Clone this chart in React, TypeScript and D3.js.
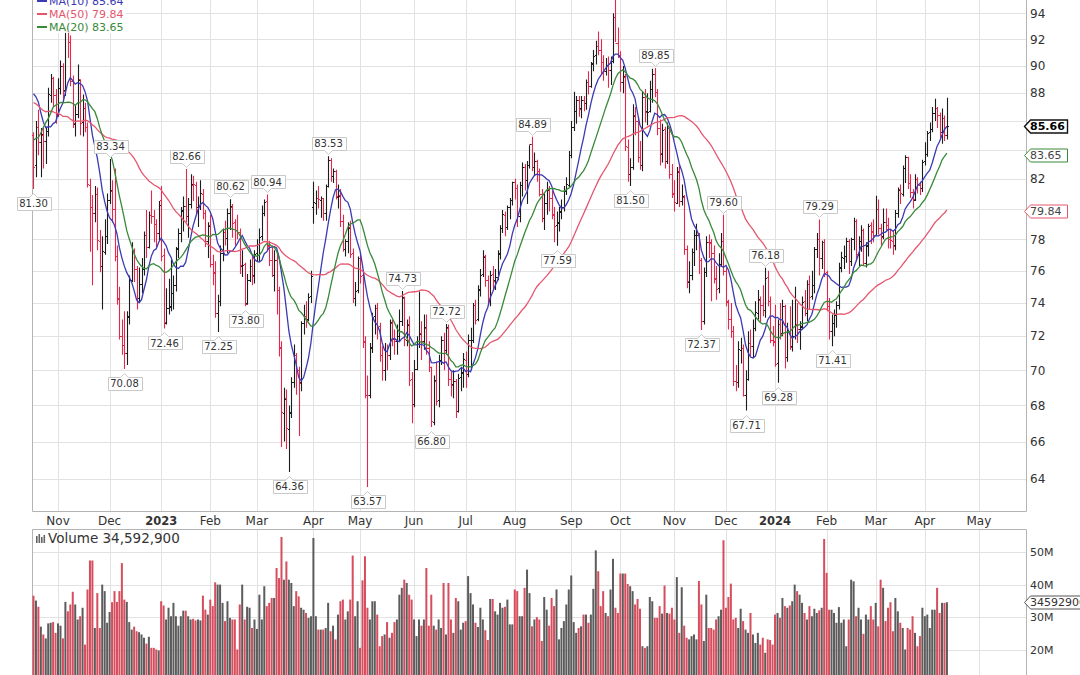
import React, { useEffect, useRef } from 'react';
import * as d3 from 'd3';

// daily bars, one array per month: [open, high, low, close, volume (millions)]
const oct22 = [
  [85.0, 85.2, 81.3, 82.82, 36.6], [82.9, 86.0, 82.1, 85.55, 35.1], [85.6, 86.8, 83.6, 84.51, 33.2],
  [84.5, 85.5, 82.1, 85.05, 27.1], [85.0, 85.5, 82.7, 84.58, 24.7], [84.6, 85.6, 83.0, 85.32, 23.5],
  [85.3, 88.4, 84.9, 87.91, 28.1], [87.9, 89.4, 87.3, 89.08, 28.3], [89.1, 89.2, 87.0, 87.9, 28.5],
  [87.9, 88.3, 85.8, 86.53, 25.2],
];
const nov22 = [
  [86.6, 89.1, 86.3, 88.37, 28.1], [88.4, 90.4, 87.9, 90.0, 27.4], [90.0, 90.2, 87.3, 88.17, 23.5],
  [88.2, 92.9, 87.8, 92.61, 34.7], [92.6, 93.74, 90.6, 91.79, 31.8], [91.8, 92.3, 88.5, 88.91, 33.9],
  [88.9, 89.3, 85.5, 85.83, 37.8], [85.8, 87.1, 84.9, 86.47, 33.9], [86.5, 90.1, 86.2, 88.96, 29.3],
  [89.0, 89.0, 85.0, 85.87, 30.3], [85.9, 87.9, 84.9, 86.92, 32.9], [86.9, 87.3, 85.2, 85.59, 21.6],
  [85.6, 85.9, 81.4, 81.64, 38.5], [81.6, 82.0, 77.2, 80.08, 47.4], [80.1, 80.9, 75.1, 79.73, 47.4],
  [79.7, 81.5, 79.1, 80.95, 26.7], [81.0, 81.4, 77.3, 77.94, 37.4], [77.9, 78.6, 75.9, 76.28, 26.7],
  [76.3, 78.2, 73.6, 77.24, 40.0], [77.2, 79.3, 77.0, 78.2, 38.0], [78.2, 81.0, 77.7, 80.55, 28.3],
];
const dec22 = [
  [80.6, 83.34, 80.3, 81.22, 31.6], [81.2, 81.9, 79.1, 79.98, 34.6], [80.0, 82.7, 76.6, 76.93, 38.0],
  [76.9, 77.6, 73.9, 74.25, 34.7], [74.3, 75.0, 71.8, 72.01, 38.0], [72.0, 73.0, 70.9, 71.46, 46.6],
  [71.5, 73.5, 70.08, 71.02, 35.4], [71.0, 73.5, 70.3, 73.17, 34.7], [73.2, 75.7, 72.7, 75.39, 28.5],
  [75.4, 77.8, 75.3, 77.28, 26.2], [77.3, 77.4, 75.3, 76.11, 27.1], [76.1, 76.3, 73.6, 74.29, 25.7],
  [74.3, 76.2, 74.0, 75.19, 25.4], [75.2, 76.8, 74.6, 76.09, 24.7], [76.1, 78.5, 75.7, 78.29, 23.7],
  [78.3, 79.9, 76.8, 77.49, 21.9], [77.5, 79.8, 77.4, 79.56, 24.0], [79.6, 81.2, 79.0, 79.53, 20.6],
  [79.5, 79.9, 77.8, 78.96, 20.6], [79.0, 79.3, 77.5, 78.4, 20.1], [78.4, 80.5, 77.9, 80.26, 19.8],
];
const jan23 = [
  [80.6, 81.5, 76.6, 76.93, 34.9], [77.0, 77.4, 72.46, 72.84, 33.6], [72.8, 74.9, 72.7, 73.67, 29.3],
  [73.7, 75.5, 73.3, 73.77, 32.9], [73.8, 76.7, 73.5, 74.63, 30.3], [74.6, 75.7, 73.6, 75.12, 34.4],
  [75.1, 77.5, 74.7, 77.41, 30.3], [77.4, 78.7, 76.8, 78.39, 27.4], [78.4, 80.1, 77.8, 79.86, 30.3],
  [79.9, 80.8, 78.5, 80.18, 32.0], [80.2, 82.66, 79.1, 79.48, 32.0], [79.5, 80.7, 78.1, 80.33, 30.3],
  [80.3, 82.3, 80.0, 81.64, 29.3], [81.6, 82.2, 80.5, 81.62, 29.5], [81.6, 81.8, 79.6, 80.13, 29.0],
  [80.1, 80.8, 78.8, 80.15, 29.3], [80.2, 81.9, 79.9, 81.01, 29.0], [81.0, 81.3, 79.3, 79.68, 36.6],
  [79.7, 79.9, 77.5, 77.9, 32.3], [77.9, 79.1, 76.8, 78.87, 30.8],
];
const feb23 = [
  [78.9, 79.6, 76.2, 76.41, 35.4], [76.4, 77.0, 75.1, 75.88, 33.4], [75.9, 76.6, 73.1, 73.39, 40.7],
  [73.4, 74.5, 72.25, 74.11, 40.0], [74.1, 77.6, 73.8, 77.14, 40.0], [77.1, 78.7, 76.6, 78.47, 34.4],
  [78.5, 79.2, 77.6, 78.06, 28.8], [78.1, 80.0, 77.1, 79.72, 34.9], [79.7, 80.62, 78.6, 80.14, 29.8],
  [80.1, 80.3, 78.1, 79.06, 29.3], [79.1, 79.3, 77.6, 78.59, 29.3], [78.6, 79.6, 78.0, 78.49, 20.1],
  [78.5, 78.7, 75.8, 76.34, 33.9], [76.3, 77.3, 75.6, 76.36, 40.0], [76.4, 76.5, 73.8, 73.95, 29.3],
  [74.0, 75.8, 73.9, 75.39, 33.2], [75.4, 76.7, 75.3, 76.32, 32.9], [76.3, 76.9, 75.1, 75.68, 26.7],
  [75.7, 77.3, 75.2, 77.05, 29.3],
];
const mar23 = [
  [77.1, 78.0, 76.6, 77.69, 26.4], [77.7, 78.7, 76.6, 78.16, 36.9], [78.2, 80.2, 77.9, 79.68, 29.3],
  [79.7, 80.6, 79.5, 80.46, 39.5], [80.5, 80.94, 77.3, 77.58, 33.4], [77.6, 77.9, 76.3, 76.66, 34.4],
  [76.7, 77.6, 75.6, 75.72, 35.9], [75.7, 77.3, 74.7, 76.68, 35.9], [76.7, 77.1, 73.3, 74.8, 45.1],
  [74.8, 75.0, 70.8, 71.33, 42.0], [71.3, 71.7, 65.7, 67.61, 54.6], [67.6, 69.0, 66.0, 68.35, 41.5],
  [68.4, 68.9, 65.6, 66.74, 47.1], [66.7, 68.0, 64.36, 67.64, 41.5], [67.6, 69.6, 67.3, 69.33, 40.5],
  [69.3, 71.5, 69.0, 70.9, 33.4], [70.9, 71.0, 68.6, 69.96, 38.0], [70.0, 70.2, 66.3, 69.26, 36.4],
  [69.3, 72.9, 68.8, 72.81, 32.9], [72.8, 73.9, 72.1, 73.2, 32.3], [73.2, 74.1, 72.5, 72.97, 31.3],
  [73.0, 74.6, 72.9, 74.37, 29.8], [74.4, 76.0, 74.0, 75.67, 30.3],
];
const apr23 = [
  [80.1, 81.8, 79.0, 80.42, 54.3], [80.4, 81.2, 79.6, 80.71, 30.3], [80.7, 81.5, 80.0, 80.61, 26.2],
  [80.6, 80.8, 79.4, 80.7, 26.2], [80.7, 80.7, 79.2, 79.74, 26.2], [79.7, 81.6, 79.2, 81.53, 26.7],
  [81.5, 83.53, 81.4, 83.26, 34.4], [83.3, 83.4, 81.8, 82.16, 25.7], [82.2, 82.7, 81.7, 82.52, 27.4],
  [82.5, 82.6, 80.6, 80.83, 23.2], [80.8, 81.6, 80.0, 80.86, 30.8], [80.9, 81.3, 78.8, 79.16, 34.9],
  [79.2, 79.6, 77.2, 77.37, 35.4], [77.4, 78.0, 76.9, 77.87, 29.3], [77.9, 79.1, 77.1, 78.76, 31.8],
  [78.8, 79.2, 76.8, 77.07, 35.4], [77.1, 77.4, 74.0, 74.3, 48.9], [74.3, 75.3, 73.8, 74.76, 30.3],
  [74.8, 76.9, 74.6, 76.78, 34.9],
];
const may23 = [
  [76.8, 77.0, 75.2, 75.66, 20.6], [75.7, 75.9, 71.3, 71.66, 41.3], [71.7, 72.0, 68.4, 68.6, 48.7],
  [68.6, 69.7, 63.57, 68.56, 32.9], [68.6, 71.6, 68.4, 71.34, 29.3], [71.3, 73.4, 71.0, 73.16, 34.9],
  [73.2, 73.9, 72.1, 73.71, 34.9], [73.7, 74.0, 71.8, 72.56, 30.8], [72.6, 72.8, 70.5, 70.87, 21.1],
  [70.9, 71.4, 69.4, 70.04, 24.2], [70.0, 71.6, 69.4, 71.11, 24.7], [71.1, 71.5, 70.0, 70.86, 28.5],
  [70.9, 73.0, 70.6, 72.83, 23.7], [72.8, 73.0, 71.4, 71.86, 25.2], [71.9, 72.4, 70.9, 71.69, 28.5],
  [71.7, 72.7, 70.9, 71.99, 29.3], [72.0, 73.6, 71.7, 72.91, 36.9], [72.9, 74.73, 72.6, 74.34, 39.0],
  [74.3, 74.4, 71.4, 71.83, 41.5], [71.8, 73.0, 71.4, 72.67, 40.5], [72.7, 73.2, 69.1, 69.46, 36.9],
  [69.5, 69.9, 67.0, 68.09, 35.4],
];
const jun23 = [
  [68.1, 70.6, 67.9, 70.1, 29.3], [70.1, 72.0, 70.0, 71.74, 24.2], [71.7, 74.7, 71.3, 72.15, 29.3],
  [72.2, 72.9, 70.6, 71.74, 27.4], [71.7, 73.3, 71.2, 72.53, 29.3], [72.5, 73.3, 70.9, 71.29, 45.1],
  [71.3, 71.7, 69.9, 70.17, 27.4], [70.2, 70.2, 66.8, 67.12, 36.9], [67.1, 69.7, 66.9, 69.42, 27.4],
  [69.4, 70.5, 68.0, 68.27, 26.2], [68.3, 70.9, 67.9, 70.62, 29.3], [70.6, 72.0, 70.3, 71.78, 26.7],
  [71.8, 72.2, 70.0, 71.19, 40.5], [71.2, 72.72, 70.9, 72.53, 24.7], [72.5, 72.7, 69.1, 69.51, 40.5],
  [69.5, 69.9, 68.5, 69.16, 29.3], [69.2, 70.0, 68.4, 69.37, 25.2], [69.4, 69.5, 67.3, 67.7, 35.9],
  [67.7, 69.8, 67.6, 69.56, 34.9], [69.6, 70.2, 68.8, 69.86, 26.2], [69.9, 71.0, 69.0, 70.64, 28.3],
];
const jul23 = [
  [70.6, 71.1, 69.0, 69.79, 28.8], [69.8, 72.1, 69.6, 71.79, 42.6], [71.8, 72.5, 70.0, 71.8, 37.4],
  [71.8, 74.0, 71.6, 73.86, 33.9], [73.9, 74.2, 72.7, 72.99, 28.3], [73.0, 75.1, 72.9, 74.83, 27.0],
  [74.8, 76.1, 74.4, 75.75, 32.9], [75.8, 77.3, 75.6, 76.89, 29.3], [76.9, 77.0, 75.0, 75.42, 26.0],
  [75.4, 75.7, 73.9, 74.15, 23.0], [74.2, 76.0, 73.8, 75.75, 35.6], [75.8, 76.3, 74.8, 75.35, 35.6],
  [75.4, 76.1, 74.8, 75.63, 31.8], [75.6, 77.3, 75.4, 77.07, 30.8], [77.1, 78.9, 76.7, 78.74, 34.4],
  [78.7, 79.9, 78.4, 79.63, 32.9], [79.6, 79.8, 78.2, 78.78, 33.2], [78.8, 80.2, 78.6, 80.09, 35.4],
  [80.1, 80.7, 79.3, 80.58, 27.8], [80.6, 81.8, 80.2, 81.8, 27.8],
];
const aug23 = [
  [81.8, 82.0, 80.6, 81.37, 38.5], [81.4, 81.6, 78.8, 79.49, 38.0], [79.5, 81.8, 79.1, 81.55, 30.3],
  [81.6, 83.1, 80.8, 82.82, 30.3], [82.8, 83.0, 81.2, 81.94, 39.0], [81.9, 83.2, 80.3, 82.92, 44.6],
  [82.9, 84.3, 82.7, 84.4, 37.4], [84.4, 84.89, 82.5, 82.82, 27.2], [82.8, 83.8, 82.2, 83.19, 29.3],
  [83.2, 83.3, 81.8, 82.51, 30.0], [82.5, 82.7, 80.8, 80.99, 29.3], [81.0, 81.3, 79.1, 79.38, 22.7],
  [79.4, 81.0, 78.6, 80.39, 36.2], [80.4, 81.8, 79.6, 81.25, 32.3], [81.3, 81.5, 79.8, 80.72, 27.4],
  [80.7, 81.2, 79.3, 79.64, 35.9], [79.6, 80.1, 77.8, 78.89, 33.4], [78.9, 79.8, 77.59, 79.05, 38.5],
  [79.1, 80.1, 78.5, 79.83, 23.2], [79.8, 80.6, 79.3, 80.1, 26.7], [80.1, 81.5, 79.8, 81.16, 28.8],
  [81.2, 82.1, 80.9, 81.63, 33.9], [81.6, 83.9, 81.4, 83.63, 38.5],
];
const sep23 = [
  [83.6, 86.0, 83.4, 85.55, 42.8], [85.6, 88.1, 85.3, 86.69, 28.5], [86.7, 87.8, 85.8, 87.54, 25.2],
  [87.5, 87.8, 86.3, 86.87, 26.7], [86.9, 87.8, 86.2, 87.51, 27.2], [87.5, 87.8, 86.7, 87.29, 30.8],
  [87.3, 89.0, 86.8, 88.84, 30.8], [88.8, 89.6, 87.9, 88.52, 28.3], [88.5, 90.3, 88.4, 90.16, 30.8],
  [90.2, 91.2, 89.6, 90.77, 38.7], [90.8, 91.9, 90.1, 91.48, 50.5], [91.5, 92.6, 90.8, 91.2, 44.1],
  [91.2, 92.0, 89.4, 90.28, 33.4], [90.3, 90.8, 88.9, 89.63, 38.0], [89.6, 90.6, 89.3, 90.03, 31.3],
  [90.0, 90.7, 88.4, 89.68, 30.3], [89.7, 90.7, 88.6, 90.39, 38.5], [90.4, 94.0, 90.2, 93.68, 47.9],
  [93.7, 95.03, 91.8, 91.71, 32.9], [91.7, 92.9, 90.6, 90.79, 31.3],
];
const oct23 = [
  [90.8, 91.1, 88.1, 88.82, 43.4], [88.8, 90.0, 88.0, 89.23, 43.4], [89.2, 89.4, 83.9, 84.22, 43.4],
  [84.2, 84.7, 81.8, 82.31, 40.2], [82.3, 83.4, 81.5, 82.79, 39.5], [82.8, 87.2, 82.6, 86.38, 38.0],
  [86.4, 87.0, 85.0, 85.97, 33.9], [86.0, 86.3, 83.1, 83.49, 35.6], [83.5, 84.6, 82.6, 82.91, 32.6],
  [82.9, 88.1, 82.5, 87.69, 21.1], [87.7, 88.3, 85.9, 86.66, 20.6], [86.7, 88.0, 85.7, 86.66, 21.1],
  [86.7, 88.9, 86.6, 88.32, 36.2], [88.3, 89.8, 87.3, 89.37, 34.9], [89.4, 89.85, 87.7, 88.08, 29.8],
  [88.1, 88.3, 85.0, 85.49, 29.8], [85.5, 86.1, 82.9, 83.74, 33.4], [83.7, 85.8, 83.1, 85.39, 31.1],
  [85.4, 85.6, 82.7, 83.21, 39.7], [83.2, 85.9, 83.0, 85.54, 31.3], [85.5, 85.6, 82.0, 82.31, 31.1],
  [82.3, 83.0, 80.7, 81.02, 32.9],
];
const nov23 = [
  [81.0, 81.9, 79.8, 80.44, 29.3], [80.4, 82.8, 80.3, 82.46, 42.3], [82.5, 83.0, 80.1, 80.51, 25.2],
  [80.5, 81.6, 80.2, 80.82, 39.2], [80.8, 80.9, 77.0, 77.37, 27.4], [77.4, 77.6, 74.9, 75.33, 23.7],
  [75.3, 76.6, 74.6, 75.74, 23.2], [75.7, 77.4, 75.4, 77.17, 24.2], [77.2, 78.6, 76.3, 78.26, 24.7],
  [78.3, 79.0, 77.3, 78.26, 23.2], [78.3, 78.4, 75.8, 76.66, 41.1], [76.7, 76.8, 72.37, 72.9, 33.9],
  [72.9, 76.2, 72.7, 75.89, 22.7], [75.9, 78.2, 75.6, 77.83, 36.9], [77.8, 78.3, 76.8, 77.77, 26.7],
  [77.8, 78.0, 74.1, 77.1, 26.7], [77.1, 77.6, 75.2, 75.54, 26.2], [75.5, 76.3, 74.2, 74.86, 29.3],
  [74.9, 77.1, 74.6, 76.41, 30.3], [76.4, 78.4, 76.3, 77.86, 32.3], [77.9, 79.6, 75.7, 75.96, 53.6],
];
const dec23 = [
  [76.0, 76.2, 73.8, 74.07, 32.9], [74.1, 74.2, 72.4, 73.04, 36.2], [73.0, 74.0, 71.9, 72.32, 40.3],
  [72.3, 72.6, 69.1, 69.38, 29.3], [69.4, 70.3, 68.8, 69.34, 29.8], [69.3, 71.7, 69.0, 71.23, 26.7],
  [71.2, 71.9, 70.4, 71.32, 32.6], [71.3, 71.5, 68.5, 68.61, 28.8], [68.6, 70.0, 67.71, 69.47, 26.2],
  [69.5, 72.3, 69.4, 71.58, 25.2], [71.6, 72.4, 70.8, 71.43, 31.3], [71.4, 73.0, 70.7, 72.47, 24.7],
  [72.5, 74.1, 72.3, 73.44, 22.1], [73.4, 74.8, 73.0, 74.22, 25.2], [74.2, 74.4, 72.8, 73.89, 21.6],
  [73.9, 75.1, 73.2, 73.56, 23.7], [73.6, 76.18, 73.1, 75.57, 19.1], [75.6, 76.0, 73.8, 74.11, 23.2],
  [74.1, 74.4, 71.6, 71.77, 23.0], [71.8, 72.6, 71.4, 71.65, 21.6],
];
const jan24 = [
  [71.7, 73.9, 70.2, 70.38, 30.8], [70.4, 73.0, 69.28, 72.7, 31.3], [72.7, 74.0, 71.8, 72.19, 29.8],
  [72.2, 74.2, 72.0, 73.81, 35.9], [73.8, 73.9, 70.1, 70.77, 33.4], [70.8, 72.8, 70.5, 72.24, 32.9],
  [72.2, 73.8, 71.2, 71.37, 33.6], [71.4, 74.2, 71.1, 72.02, 34.9], [72.0, 75.0, 71.8, 72.68, 40.0],
  [72.7, 74.0, 71.6, 72.4, 38.0], [72.4, 72.9, 71.2, 72.56, 36.9], [72.6, 74.4, 72.4, 74.08, 34.4],
  [74.1, 74.8, 73.2, 73.41, 31.3], [73.4, 75.4, 72.9, 75.19, 29.3], [75.2, 75.7, 73.6, 74.37, 33.4],
  [74.4, 76.0, 74.2, 75.09, 30.3], [75.1, 77.5, 74.6, 77.36, 32.6], [77.4, 78.4, 76.8, 78.01, 31.3],
  [78.0, 79.29, 75.7, 76.78, 32.1], [76.8, 77.9, 76.1, 77.82, 32.9], [77.8, 78.0, 75.6, 75.85, 54.0],
];
const feb24 = [
  [75.9, 76.0, 73.5, 73.82, 43.6], [73.8, 74.3, 71.8, 72.28, 32.3], [72.3, 73.3, 71.41, 72.78, 32.3],
  [72.8, 73.6, 72.0, 73.31, 31.3], [73.3, 74.1, 72.5, 73.86, 28.3], [73.9, 76.5, 73.6, 76.22, 33.1],
  [76.2, 77.2, 75.9, 76.84, 28.3], [76.8, 77.6, 76.1, 76.92, 29.3], [76.9, 78.1, 76.5, 77.87, 21.1],
  [77.9, 78.0, 75.8, 76.64, 29.3], [76.6, 78.1, 76.3, 78.03, 41.5], [78.0, 79.4, 77.3, 79.19, 41.0],
  [79.2, 79.3, 76.6, 77.04, 30.3], [77.0, 78.2, 76.3, 77.91, 32.9], [77.9, 78.9, 77.2, 78.61, 29.3],
  [78.6, 78.7, 76.3, 76.49, 24.9], [76.5, 77.8, 76.2, 77.58, 30.8], [77.6, 79.0, 76.9, 78.87, 29.3],
  [78.9, 79.1, 77.7, 78.54, 33.4], [78.5, 79.3, 77.8, 78.26, 29.3],
];
const mar24 = [
  [78.3, 80.85, 78.2, 79.97, 34.4], [80.0, 80.6, 78.3, 78.74, 27.2], [78.7, 79.0, 77.6, 78.15, 41.5],
  [78.2, 80.0, 78.0, 79.13, 39.0], [79.1, 80.0, 78.6, 78.93, 28.8], [78.9, 79.4, 77.4, 78.01, 32.9],
  [78.0, 78.6, 77.4, 77.93, 34.6], [77.9, 78.6, 77.0, 77.56, 25.7], [77.6, 79.9, 77.3, 79.72, 35.9],
  [79.7, 81.4, 79.4, 81.26, 31.8], [81.3, 81.6, 80.3, 81.04, 28.3], [81.0, 82.9, 80.8, 82.72, 26.7],
  [82.7, 83.6, 81.7, 83.47, 20.1], [83.5, 83.5, 81.3, 81.68, 26.7], [81.7, 82.3, 80.7, 81.07, 26.2],
  [81.1, 81.3, 80.0, 80.63, 30.3], [80.6, 82.3, 80.5, 81.95, 25.2], [82.0, 82.1, 81.0, 81.62, 21.1],
  [81.6, 81.8, 80.9, 81.35, 24.2], [81.4, 83.3, 81.1, 83.17, 32.9],
];
const apr24 = [
  [83.2, 84.5, 82.9, 83.71, 30.3], [83.7, 85.3, 83.5, 85.15, 30.8], [85.2, 85.9, 84.6, 85.43, 26.7],
  [85.4, 87.0, 85.2, 86.59, 32.3], [86.6, 87.6, 86.0, 86.91, 32.3], [86.9, 87.0, 85.5, 86.43, 39.0],
  [86.4, 86.6, 84.8, 85.23, 31.3], [85.2, 86.9, 84.4, 86.21, 34.4], [86.2, 86.4, 84.6, 85.02, 34.4],
  [85.0, 87.67, 84.7, 85.66, 34.59],
];
const months = [oct22, nov22, dec22, jan23, feb23, mar23, apr23, may23, jun23, jul23, aug23, sep23,
  oct23, nov23, dec23, jan24, feb24, mar24, apr24];

// closes before the first visible bar, only used to start the moving averages
const warmupCloses = [
  89.01, 90.76, 90.5, 91.93, 94.34, 92.09, 89.41, 86.53, 88.11, 90.5, 90.77, 90.23, 93.74, 94.89,
  92.52, 93.06, 97.01, 91.64, 89.55, 86.61, 86.87, 86.88, 81.94, 83.54, 86.79, 87.78, 87.31, 88.48,
  85.1, 85.11, 85.73, 84.45, 82.94, 83.49, 78.74, 76.71, 78.5, 82.15, 81.23, 79.49, 83.63, 86.52,
  87.76, 88.45, 92.64, 91.13, 89.35, 87.27, 89.11, 85.61, 85.46,
];

const firstDay = '2022-10-18';
const calendarEnd = '2024-06-14';
const holidays = [
  '2022-11-24', '2022-12-26', '2023-01-02', '2023-01-16', '2023-02-20', '2023-04-07', '2023-05-29',
  '2023-06-19', '2023-07-04', '2023-09-04', '2023-11-23', '2023-12-25', '2024-01-01', '2024-01-15',
  '2024-02-19', '2024-03-29', '2024-05-27',
];

const priceTicks = [64, 66, 68, 70, 72, 74, 76, 78, 80, 82, 84, 86, 88, 90, 92, 94];
const volumeTicks = [10, 20, 30, 40, 50];

const maPeriods = [10, 50, 20];
const maNames = ['MA(10) 85.64', 'MA(50) 79.84', 'MA(20) 83.65'];
const maLast = [85.64, 79.84, 83.65];
const maColors = ['#3a3ab4', '#e5566e', '#388a38'];

const volumeLabel = 'Volume 34,592,900';
const volumeTag = '34592900';

// swing labels: [date, price, side]
const annotations: [string, number, string][] = [
  ['2022-10-18', 81.3, 'low'], ['2022-12-01', 83.34, 'high'], ['2022-12-09', 70.08, 'low'],
  ['2023-01-04', 72.46, 'low'], ['2023-01-18', 82.66, 'high'], ['2023-02-06', 72.25, 'low'],
  ['2023-02-13', 80.62, 'high'], ['2023-02-22', 73.8, 'low'], ['2023-03-07', 80.94, 'high'],
  ['2023-03-20', 64.36, 'low'], ['2023-04-12', 83.53, 'high'], ['2023-05-04', 63.57, 'low'],
  ['2023-05-24', 74.73, 'high'], ['2023-06-12', 66.8, 'low'], ['2023-06-21', 72.72, 'high'],
  ['2023-08-10', 84.89, 'high'], ['2023-08-24', 77.59, 'low'], ['2023-10-06', 81.5, 'low'],
  ['2023-10-20', 89.85, 'high'], ['2023-11-16', 72.37, 'low'], ['2023-11-30', 79.6, 'high'],
  ['2023-12-13', 67.71, 'low'], ['2023-12-26', 76.18, 'high'], ['2024-01-03', 69.28, 'low'],
  ['2024-01-29', 79.29, 'high'], ['2024-02-05', 71.41, 'low'],
];

const FONT = "'DejaVu Sans', Verdana, sans-serif";

export default function App() {
  const ref = useRef<SVGSVGElement>(null);

  useEffect(() => {
    const svg = d3.select(ref.current);
    svg.selectAll('*').remove();

    const bars = months.flat();
    const fmt = d3.timeFormat('%Y-%m-%d');
    const parse = d3.timeParse('%Y-%m-%d');
    const days = d3.timeDay
      .range(parse(firstDay), parse(calendarEnd))
      .filter(d => d.getDay() !== 0 && d.getDay() !== 6 && !holidays.includes(fmt(d)));
    const dayIndex = new Map(days.map((d, i) => [fmt(d), i]));

    const left = 32, right = 1026;
    const x = d3.scaleLinear().domain([-0.6, 404.2]).range([left, right]);
    const y = d3.scaleLog().domain([64, 94]).range([478.8, 13.3]);
    const yv = d3.scaleLinear().domain([0, 50]).range([715, 552]);
    const pTop = -20, pBottom = 511, vTop = 529, vBottom = 700;

    const up = '#1c1c1c', down = '#e4284d';
    const closes = bars.map(b => b[3]);
    const prevClose = (i: number) => (i === 0 ? warmupCloses[warmupCloses.length - 1] : closes[i - 1]);
    const isDown = (i: number) => closes[i] < prevClose(i);
    const last = closes[closes.length - 1];

    const defs = svg.append('defs');
    defs.append('clipPath').attr('id', 'pclip').append('rect')
      .attr('x', left).attr('y', pTop).attr('width', right - left).attr('height', pBottom - pTop);
    defs.append('clipPath').attr('id', 'vclip').append('rect')
      .attr('x', left).attr('y', vTop).attr('width', right - left).attr('height', vBottom - vTop);

    // month ticks (first trading day of each month)
    const monthTicks = days
      .map((d, i) => ({ d, i }))
      .filter(({ d, i }) => i > 0 && d.getMonth() !== days[i - 1].getMonth() && x(i) < right);

    const grid = svg.append('g').attr('stroke', '#e2e2e2').attr('stroke-width', 1);
    priceTicks.forEach(p => {
      const yy = Math.round(y(p)) + 0.5;
      grid.append('line').attr('x1', left).attr('x2', right).attr('y1', yy).attr('y2', yy);
    });
    volumeTicks.forEach(v => {
      const yy = Math.round(yv(v)) + 0.5;
      grid.append('line').attr('x1', left).attr('x2', right).attr('y1', yy).attr('y2', yy);
    });
    monthTicks.forEach(({ i }) => {
      const xx = Math.round(x(i)) + 0.5;
      grid.append('line').attr('x1', xx).attr('x2', xx).attr('y1', pTop).attr('y2', pBottom);
      grid.append('line').attr('x1', xx).attr('x2', xx).attr('y1', vTop).attr('y2', vBottom);
    });

    // panel frames
    const frame = svg.append('g').attr('fill', 'none').attr('stroke', '#b4b4b4');
    frame.append('path').attr('d', `M${left + 0.5},${pTop}V${pBottom + 0.5}H${right + 0.5}V${pTop}`);
    frame.append('path').attr('d', `M${left + 0.5},${vBottom}V${vTop + 0.5}H${right + 0.5}V${vBottom}`);

    // price bars
    const pg = svg.append('g').attr('clip-path', 'url(#pclip)');
    pg.selectAll('path.bar')
      .data(bars)
      .join('path')
      .attr('class', 'bar')
      .attr('fill', 'none')
      .attr('stroke-width', 1.1)
      .attr('stroke', (_, i) => (isDown(i) ? down : up))
      .attr('d', (b, i) => {
        const cx = Math.round(x(i)) + 0.5;
        const yo = Math.round(y(b[0])) + 0.5;
        const yc = Math.round(y(b[3])) + 0.5;
        return `M${cx},${y(b[1])}V${y(b[2])}M${cx - 1.5},${yo}H${cx}M${cx},${yc}H${cx + 1.5}`;
      });

    // moving averages
    const all = [...warmupCloses, ...closes];
    const off = warmupCloses.length;
    maPeriods.forEach((n, k) => {
      const ma = closes.map((_, i) => d3.mean(all.slice(off + i - n + 1, off + i + 1)) as number);
      const line = d3.line<number>().x((_, i) => x(i)).y(v => y(v));
      pg.append('path').attr('d', line(ma)).attr('fill', 'none')
        .attr('stroke', maColors[k]).attr('stroke-width', 1.3);
    });

    // volume bars
    const vg = svg.append('g').attr('clip-path', 'url(#vclip)');
    vg.selectAll('rect')
      .data(bars)
      .join('rect')
      .attr('x', (_, i) => x(i) - 1)
      .attr('width', 2)
      .attr('y', b => yv(b[4]))
      .attr('height', b => 715 - yv(b[4]))
      .attr('fill', (_, i) => (isDown(i) ? '#d64d5d' : '#5c5c5c'));

    // swing labels
    const ag = svg.append('g').attr('font-family', FONT).attr('font-size', 10);
    annotations.forEach(([date, value, side]) => {
      const i = dayIndex.get(date);
      if (i === undefined) return;
      const ax = Math.round(x(i)) + 0.5;
      const ay = y(value);
      const cy = side === 'high' ? ay - 12.5 : ay + 14.5;
      const t = ag.append('text').attr('x', ax).attr('y', cy).attr('dy', '0.36em')
        .attr('text-anchor', 'middle').attr('fill', '#333').text(value.toFixed(2));
      const w = (t.node() as SVGTextElement).getComputedTextLength() + 5;
      const l = Math.round(ax - w / 2) + 0.5, r = l + Math.round(w);
      const top = Math.round(cy - 6.5) + 0.5, bot = top + 13;
      const d = side === 'high'
        ? `M${l},${top}H${r}V${bot}H${ax + 4}L${ax},${bot + 4}L${ax - 4},${bot}H${l}Z`
        : `M${l},${top}H${ax - 4}L${ax},${top - 4}L${ax + 4},${top}H${r}V${bot}H${l}Z`;
      ag.insert('path', () => t.node()).attr('d', d).attr('fill', '#fff').attr('stroke', '#c9c9c9');
    });

    // right axis labels (those hidden behind the value tags are left out)
    const tagValues = [last, maLast[1], maLast[2]];
    const axg = svg.append('g').attr('font-family', FONT).attr('font-size', 12).attr('fill', '#333');
    priceTicks
      .filter(p => tagValues.every(v => Math.abs(y(p) - y(v)) > 9))
      .forEach(p => {
        axg.append('text').attr('x', 1030).attr('y', y(p)).attr('dy', '0.36em').text(p);
      });
    axg.append('g').attr('font-size', 11).selectAll('text')
      .data(volumeTicks.filter(v => yv(v) < 668 && Math.abs(yv(v) - yv(bars[bars.length - 1][4])) > 9))
      .join('text')
      .attr('x', 1030).attr('y', v => yv(v)).attr('dy', '0.36em').text(v => `${v}M`);

    // month labels
    const mFmt = d3.timeFormat('%b');
    monthTicks.forEach(({ d, i }) => {
      const yr = d.getMonth() === 0;
      svg.append('text').attr('x', x(i)).attr('y', 524.5).attr('text-anchor', 'middle')
        .attr('font-family', FONT).attr('font-size', yr ? 11.5 : 12)
        .attr('font-weight', yr ? 'bold' : 'normal').attr('fill', '#333')
        .text(yr ? d.getFullYear() : mFmt(d));
    });

    // right-edge value tags
    const tag = (value: number, text: string, stroke: string, bold: boolean, color: string) => {
      const ty = Math.round(y(value)) + 0.5;
      const g = svg.append('g');
      g.append('path')
        .attr('d', `M1024.5,${ty}L1030.5,${ty - 6.5}H1067.5V${ty + 6.5}H1030.5Z`)
        .attr('fill', '#fff').attr('stroke', stroke).attr('stroke-width', bold ? 1.4 : 1);
      g.append('text').attr('x', 1030).attr('y', ty).attr('dy', '0.36em')
        .attr('font-family', FONT).attr('font-size', 11).attr('font-weight', bold ? 'bold' : 'normal')
        .attr('fill', color).text(text);
    };
    tag(maLast[1], maLast[1].toFixed(2), maColors[1], false, '#444');
    tag(maLast[2], maLast[2].toFixed(2), maColors[2], false, '#444');
    tag(last, last.toFixed(2), '#111', true, '#000');

    const lastVol = bars[bars.length - 1][4];
    const vy = Math.round(yv(lastVol)) + 0.5;
    svg.append('path')
      .attr('d', `M1024.5,${vy}L1030.5,${vy - 6.5}H1090V${vy + 6.5}H1030.5Z`)
      .attr('fill', '#fff').attr('stroke', '#555');
    svg.append('text').attr('x', 1030).attr('y', vy).attr('dy', '0.36em')
      .attr('font-family', FONT).attr('font-size', 11).attr('fill', '#333').text(volumeTag);

    // MA legend
    const lg = svg.append('g').attr('font-family', FONT).attr('font-size', 11);
    lg.append('rect').attr('x', 34).attr('y', -12).attr('width', 92).attr('height', 45)
      .attr('fill', '#fff').attr('opacity', 0.9);
    maNames.forEach((name, k) => {
      const ly = 1 + k * 13;
      lg.append('line').attr('x1', 37).attr('x2', 47).attr('y1', ly).attr('y2', ly)
        .attr('stroke', maColors[k]).attr('stroke-width', 2);
      lg.append('text').attr('x', 49).attr('y', ly).attr('dy', '0.36em')
        .attr('fill', maColors[k]).text(name);
    });

    // volume legend
    const vl = svg.append('g');
    [[36, 536, 7], [38.5, 534, 9], [41, 537, 6], [43.5, 535, 8]].forEach(([bx, by, bh]) => {
      vl.append('rect').attr('x', bx).attr('y', by).attr('width', 1.6).attr('height', bh).attr('fill', '#666');
    });
    vl.append('text').attr('x', 48).attr('y', 538.5).attr('dy', '0.36em')
      .attr('font-family', FONT).attr('font-size', 13.5).attr('fill', '#333').text(volumeLabel);
  }, []);

  return (
    <div style={{ position: 'absolute', left: 0, top: 0 }}>
      <svg ref={ref} width={1080} height={675} style={{ display: 'block', background: '#fff' }} />
    </div>
  );
}
